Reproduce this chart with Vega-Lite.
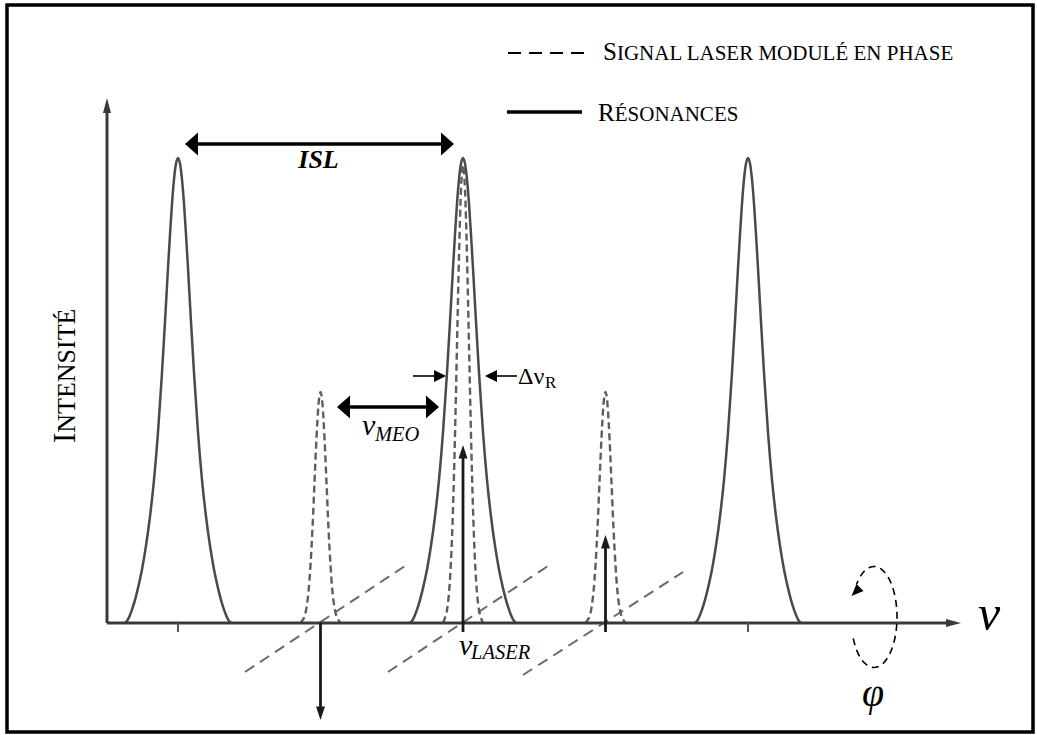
{
  "$schema": "https://vega.github.io/schema/vega-lite/v6.json",
  "width": 1026,
  "height": 727,
  "padding": {"left": 7, "top": 5, "right": 4, "bottom": 3},
  "autosize": {"type": "none"},
  "background": "white",
  "config": {"view": {"stroke": "black", "strokeWidth": 3.5}},
  "encoding": {
    "x": {"field": "x", "type": "quantitative", "scale": {"domain": [-3.2, 4.0], "nice": false, "zero": false}, "axis": null},
    "y": {"field": "y", "type": "quantitative", "scale": {"domain": [-0.23441, 1.32903], "nice": false, "zero": false}, "axis": null}
  },
  "layer": [
    {
      "data": {"values": [
        {"x": -1.5298, "y": -0.1054, "x2": -0.4070, "y2": 0.1226},
        {"x": -0.5263, "y": -0.1054, "x2": 0.5965, "y2": 0.1226},
        {"x": 0.4211, "y": -0.1118, "x2": 1.5439, "y2": 0.1097}
      ]},
      "mark": {"type": "rule", "stroke": "#6a6a6a", "strokeWidth": 2, "strokeDash": [11, 7]},
      "encoding": {"x2": {"field": "x2"}, "y2": {"field": "y2"}}
    },
    {
      "data": {"values": [
        {"peak": "p1", "x": -2.3719, "y": 0}, {"peak": "p1", "x": -2.3509, "y": 0.008}, {"peak": "p1", "x": -2.3158, "y": 0.035}, {"peak": "p1", "x": -2.2807, "y": 0.075}, {"peak": "p1", "x": -2.2526, "y": 0.115}, {"peak": "p1", "x": -2.2246, "y": 0.166}, {"peak": "p1", "x": -2.1965, "y": 0.229}, {"peak": "p1", "x": -2.1684, "y": 0.308}, {"peak": "p1", "x": -2.1404, "y": 0.410}, {"peak": "p1", "x": -2.1123, "y": 0.538}, {"peak": "p1", "x": -2.0912, "y": 0.648}, {"peak": "p1", "x": -2.0702, "y": 0.763}, {"peak": "p1", "x": -2.0561, "y": 0.836}, {"peak": "p1", "x": -2.0421, "y": 0.902}, {"peak": "p1", "x": -2.0281, "y": 0.954}, {"peak": "p1", "x": -2.0140, "y": 0.988}, {"peak": "p1", "x": -2.0, "y": 1.0}, {"peak": "p1", "x": -1.9860, "y": 0.988}, {"peak": "p1", "x": -1.9719, "y": 0.954}, {"peak": "p1", "x": -1.9579, "y": 0.902}, {"peak": "p1", "x": -1.9439, "y": 0.836}, {"peak": "p1", "x": -1.9298, "y": 0.763}, {"peak": "p1", "x": -1.9088, "y": 0.648}, {"peak": "p1", "x": -1.8877, "y": 0.538}, {"peak": "p1", "x": -1.8596, "y": 0.410}, {"peak": "p1", "x": -1.8316, "y": 0.308}, {"peak": "p1", "x": -1.8035, "y": 0.229}, {"peak": "p1", "x": -1.7754, "y": 0.166}, {"peak": "p1", "x": -1.7474, "y": 0.115}, {"peak": "p1", "x": -1.7193, "y": 0.075}, {"peak": "p1", "x": -1.6842, "y": 0.035}, {"peak": "p1", "x": -1.6491, "y": 0.008}, {"peak": "p1", "x": -1.6281, "y": 0},
        {"peak": "p2", "x": -0.3719, "y": 0}, {"peak": "p2", "x": -0.3509, "y": 0.008}, {"peak": "p2", "x": -0.3158, "y": 0.035}, {"peak": "p2", "x": -0.2807, "y": 0.075}, {"peak": "p2", "x": -0.2526, "y": 0.115}, {"peak": "p2", "x": -0.2246, "y": 0.166}, {"peak": "p2", "x": -0.1965, "y": 0.229}, {"peak": "p2", "x": -0.1684, "y": 0.308}, {"peak": "p2", "x": -0.1404, "y": 0.410}, {"peak": "p2", "x": -0.1123, "y": 0.538}, {"peak": "p2", "x": -0.0912, "y": 0.648}, {"peak": "p2", "x": -0.0702, "y": 0.763}, {"peak": "p2", "x": -0.0561, "y": 0.836}, {"peak": "p2", "x": -0.0421, "y": 0.902}, {"peak": "p2", "x": -0.0281, "y": 0.954}, {"peak": "p2", "x": -0.0140, "y": 0.988}, {"peak": "p2", "x": 0.0, "y": 1.0}, {"peak": "p2", "x": 0.0140, "y": 0.988}, {"peak": "p2", "x": 0.0281, "y": 0.954}, {"peak": "p2", "x": 0.0421, "y": 0.902}, {"peak": "p2", "x": 0.0561, "y": 0.836}, {"peak": "p2", "x": 0.0702, "y": 0.763}, {"peak": "p2", "x": 0.0912, "y": 0.648}, {"peak": "p2", "x": 0.1123, "y": 0.538}, {"peak": "p2", "x": 0.1404, "y": 0.410}, {"peak": "p2", "x": 0.1684, "y": 0.308}, {"peak": "p2", "x": 0.1965, "y": 0.229}, {"peak": "p2", "x": 0.2246, "y": 0.166}, {"peak": "p2", "x": 0.2526, "y": 0.115}, {"peak": "p2", "x": 0.2807, "y": 0.075}, {"peak": "p2", "x": 0.3158, "y": 0.035}, {"peak": "p2", "x": 0.3509, "y": 0.008}, {"peak": "p2", "x": 0.3719, "y": 0},
        {"peak": "p3", "x": 1.6281, "y": 0}, {"peak": "p3", "x": 1.6491, "y": 0.008}, {"peak": "p3", "x": 1.6842, "y": 0.035}, {"peak": "p3", "x": 1.7193, "y": 0.075}, {"peak": "p3", "x": 1.7474, "y": 0.115}, {"peak": "p3", "x": 1.7754, "y": 0.166}, {"peak": "p3", "x": 1.8035, "y": 0.229}, {"peak": "p3", "x": 1.8316, "y": 0.308}, {"peak": "p3", "x": 1.8596, "y": 0.410}, {"peak": "p3", "x": 1.8877, "y": 0.538}, {"peak": "p3", "x": 1.9088, "y": 0.648}, {"peak": "p3", "x": 1.9298, "y": 0.763}, {"peak": "p3", "x": 1.9439, "y": 0.836}, {"peak": "p3", "x": 1.9579, "y": 0.902}, {"peak": "p3", "x": 1.9719, "y": 0.954}, {"peak": "p3", "x": 1.9860, "y": 0.988}, {"peak": "p3", "x": 2.0, "y": 1.0}, {"peak": "p3", "x": 2.0140, "y": 0.988}, {"peak": "p3", "x": 2.0281, "y": 0.954}, {"peak": "p3", "x": 2.0421, "y": 0.902}, {"peak": "p3", "x": 2.0561, "y": 0.836}, {"peak": "p3", "x": 2.0702, "y": 0.763}, {"peak": "p3", "x": 2.0912, "y": 0.648}, {"peak": "p3", "x": 2.1123, "y": 0.538}, {"peak": "p3", "x": 2.1404, "y": 0.410}, {"peak": "p3", "x": 2.1684, "y": 0.308}, {"peak": "p3", "x": 2.1965, "y": 0.229}, {"peak": "p3", "x": 2.2246, "y": 0.166}, {"peak": "p3", "x": 2.2526, "y": 0.115}, {"peak": "p3", "x": 2.2807, "y": 0.075}, {"peak": "p3", "x": 2.3158, "y": 0.035}, {"peak": "p3", "x": 2.3509, "y": 0.008}, {"peak": "p3", "x": 2.3719, "y": 0}
      ]},
      "mark": {"type": "line", "stroke": "#4a4a4a", "strokeWidth": 2.5, "interpolate": "monotone"},
      "encoding": {"detail": {"field": "peak"}}
    },
    {
      "data": {"values": [
        {"s": "c", "x": -0.1404, "y": 0}, {"s": "c", "x": -0.1263, "y": 0.011}, {"s": "c", "x": -0.1123, "y": 0.028}, {"s": "c", "x": -0.0982, "y": 0.065}, {"s": "c", "x": -0.0842, "y": 0.133}, {"s": "c", "x": -0.0702, "y": 0.245}, {"s": "c", "x": -0.0561, "y": 0.405}, {"s": "c", "x": -0.0421, "y": 0.598}, {"s": "c", "x": -0.0281, "y": 0.789}, {"s": "c", "x": -0.0140, "y": 0.932}, {"s": "c", "x": 0.0, "y": 0.985}, {"s": "c", "x": 0.0140, "y": 0.932}, {"s": "c", "x": 0.0281, "y": 0.789}, {"s": "c", "x": 0.0421, "y": 0.598}, {"s": "c", "x": 0.0561, "y": 0.405}, {"s": "c", "x": 0.0702, "y": 0.245}, {"s": "c", "x": 0.0842, "y": 0.133}, {"s": "c", "x": 0.0982, "y": 0.065}, {"s": "c", "x": 0.1123, "y": 0.028}, {"s": "c", "x": 0.1263, "y": 0.011}, {"s": "c", "x": 0.1404, "y": 0},
        {"s": "l", "x": -1.1404, "y": 0}, {"s": "l", "x": -1.1263, "y": 0.006}, {"s": "l", "x": -1.1123, "y": 0.014}, {"s": "l", "x": -1.0982, "y": 0.033}, {"s": "l", "x": -1.0842, "y": 0.067}, {"s": "l", "x": -1.0702, "y": 0.124}, {"s": "l", "x": -1.0561, "y": 0.204}, {"s": "l", "x": -1.0421, "y": 0.302}, {"s": "l", "x": -1.0281, "y": 0.398}, {"s": "l", "x": -1.0140, "y": 0.470}, {"s": "l", "x": -1.0, "y": 0.497}, {"s": "l", "x": -0.9860, "y": 0.470}, {"s": "l", "x": -0.9719, "y": 0.398}, {"s": "l", "x": -0.9579, "y": 0.302}, {"s": "l", "x": -0.9439, "y": 0.204}, {"s": "l", "x": -0.9298, "y": 0.124}, {"s": "l", "x": -0.9158, "y": 0.067}, {"s": "l", "x": -0.9018, "y": 0.033}, {"s": "l", "x": -0.8877, "y": 0.014}, {"s": "l", "x": -0.8737, "y": 0.006}, {"s": "l", "x": -0.8596, "y": 0},
        {"s": "u", "x": 0.8596, "y": 0}, {"s": "u", "x": 0.8737, "y": 0.006}, {"s": "u", "x": 0.8877, "y": 0.014}, {"s": "u", "x": 0.9018, "y": 0.033}, {"s": "u", "x": 0.9158, "y": 0.067}, {"s": "u", "x": 0.9298, "y": 0.124}, {"s": "u", "x": 0.9439, "y": 0.204}, {"s": "u", "x": 0.9579, "y": 0.302}, {"s": "u", "x": 0.9719, "y": 0.398}, {"s": "u", "x": 0.9860, "y": 0.470}, {"s": "u", "x": 1.0, "y": 0.497}, {"s": "u", "x": 1.0140, "y": 0.470}, {"s": "u", "x": 1.0281, "y": 0.398}, {"s": "u", "x": 1.0421, "y": 0.302}, {"s": "u", "x": 1.0561, "y": 0.204}, {"s": "u", "x": 1.0702, "y": 0.124}, {"s": "u", "x": 1.0842, "y": 0.067}, {"s": "u", "x": 1.0982, "y": 0.033}, {"s": "u", "x": 1.1123, "y": 0.014}, {"s": "u", "x": 1.1263, "y": 0.006}, {"s": "u", "x": 1.1404, "y": 0}
      ]},
      "mark": {"type": "line", "stroke": "#5e5e5e", "strokeWidth": 2.4, "strokeDash": [7, 4], "interpolate": "monotone"},
      "encoding": {"detail": {"field": "s"}}
    },
    {
      "data": {"values": [
        {"x": -2.4982, "y": 0, "x2": 3.4245, "y2": 0},
        {"x": -2.4982, "y": 0, "x2": -2.4982, "y2": 1.1075}
      ]},
      "mark": {"type": "rule", "stroke": "#3a3a3a", "strokeWidth": 3},
      "encoding": {"x2": {"field": "x2"}, "y2": {"field": "y2"}}
    },
    {
      "data": {"values": [
        {"x": -2, "y": 0, "x2": -2, "y2": -0.0194},
        {"x": 2, "y": 0, "x2": 2, "y2": -0.0194}
      ]},
      "mark": {"type": "rule", "stroke": "#555555", "strokeWidth": 2},
      "encoding": {"x2": {"field": "x2"}, "y2": {"field": "y2"}}
    },
    {
      "data": {"values": [
        {"x": 0, "y": -0.0194, "x2": 0, "y2": 0.3656},
        {"x": 1, "y": -0.0194, "x2": 1, "y2": 0.1720},
        {"x": -1, "y": 0, "x2": -1, "y2": -0.1914}
      ]},
      "mark": {"type": "rule", "stroke": "#1a1a1a", "strokeWidth": 2.8},
      "encoding": {"x2": {"field": "x2"}, "y2": {"field": "y2"}}
    },
    {
      "data": {"values": [
        {"x": -1.8737, "y": 1.0301, "x2": -0.1404, "y2": 1.0301},
        {"x": -0.8140, "y": 0.4645, "x2": -0.2386, "y2": 0.4645},
        {"x": 0.3088, "y": 1.0989, "x2": 0.8351, "y2": 1.0989}
      ]},
      "mark": {"type": "rule", "stroke": "black", "strokeWidth": 3.3},
      "encoding": {"x2": {"field": "x2"}, "y2": {"field": "y2"}}
    },
    {
      "data": {"values": [
        {"x": -0.3509, "y": 0.5312, "x2": -0.1614, "y2": 0.5312},
        {"x": 0.1965, "y": 0.5312, "x2": 0.3789, "y2": 0.5312}
      ]},
      "mark": {"type": "rule", "stroke": "black", "strokeWidth": 1.6},
      "encoding": {"x2": {"field": "x2"}, "y2": {"field": "y2"}}
    },
    {
      "data": {"values": [
        {"x": 0.3158, "y": 1.2258, "x2": 0.8702, "y2": 1.2258}
      ]},
      "mark": {"type": "rule", "stroke": "black", "strokeWidth": 2.2, "strokeDash": [13, 8]},
      "encoding": {"x2": {"field": "x2"}, "y2": {"field": "y2"}}
    },
    {
      "data": {"values": [
        {"k": 1, "x": 2.7380, "y": -0.0330}, {"k": 2, "x": 2.7606, "y": -0.0569}, {"k": 3, "x": 2.7916, "y": -0.0761}, {"k": 4, "x": 2.8290, "y": -0.0891}, {"k": 5, "x": 2.8702, "y": -0.0953}, {"k": 6, "x": 2.9122, "y": -0.0940}, {"k": 7, "x": 2.9524, "y": -0.0855}, {"k": 8, "x": 2.9879, "y": -0.0703}, {"k": 9, "x": 3.0164, "y": -0.0494}, {"k": 10, "x": 3.0359, "y": -0.0242}, {"k": 11, "x": 3.0450, "y": 0.0034}, {"k": 12, "x": 3.0432, "y": 0.0318}, {"k": 13, "x": 3.0305, "y": 0.0588}, {"k": 14, "x": 3.0079, "y": 0.0827}, {"k": 15, "x": 2.9768, "y": 0.1019}, {"k": 16, "x": 2.9394, "y": 0.1149}, {"k": 17, "x": 2.8982, "y": 0.1211}, {"k": 18, "x": 2.8562, "y": 0.1198}, {"k": 19, "x": 2.8160, "y": 0.1113}, {"k": 20, "x": 2.7805, "y": 0.0961}, {"k": 21, "x": 2.7606, "y": 0.0827}
      ]},
      "mark": {"type": "line", "stroke": "black", "strokeWidth": 1.6, "strokeDash": [7, 5], "interpolate": "catmull-rom"},
      "encoding": {"order": {"field": "k", "type": "quantitative"}}
    },
    {
      "data": {"values": [{"x": -1.9509, "y": 1.0301}, {"x": -0.8842, "y": 0.4645}]},
      "mark": {"type": "point", "shape": "M0,0L1.13,-1L1.13,1Z", "size": 529, "filled": true, "color": "black", "opacity": 1, "strokeWidth": 0}
    },
    {
      "data": {"values": [{"x": -0.0632, "y": 1.0301}, {"x": -0.1684, "y": 0.4645}]},
      "mark": {"type": "point", "shape": "M0,0L-1.13,-1L-1.13,1Z", "size": 529, "filled": true, "color": "black", "opacity": 1, "strokeWidth": 0}
    },
    {
      "data": {"values": [{"x": -0.1193, "y": 0.5312}]},
      "mark": {"type": "point", "shape": "M0,0L-2,-1L-2,1Z", "size": 144, "filled": true, "color": "black", "opacity": 1, "strokeWidth": 0}
    },
    {
      "data": {"values": [{"x": 0.1544, "y": 0.5312}]},
      "mark": {"type": "point", "shape": "M0,0L2,-1L2,1Z", "size": 144, "filled": true, "color": "black", "opacity": 1, "strokeWidth": 0}
    },
    {
      "data": {"values": [{"x": 0, "y": 0.3828}, {"x": 1, "y": 0.1892}]},
      "mark": {"type": "point", "shape": "M0,0L-1,3L1,3Z", "size": 81, "filled": true, "color": "#1a1a1a", "opacity": 1, "strokeWidth": 0}
    },
    {
      "data": {"values": [{"x": -1, "y": -0.2086}]},
      "mark": {"type": "point", "shape": "M0,0L-1,-3L1,-3Z", "size": 81, "filled": true, "color": "#1a1a1a", "opacity": 1, "strokeWidth": 0}
    },
    {
      "data": {"values": [{"x": 3.4947, "y": 0}]},
      "mark": {"type": "point", "shape": "M0,0L-3.75,-1L-3.75,1Z", "size": 64, "filled": true, "color": "#3a3a3a", "opacity": 1, "strokeWidth": 0}
    },
    {
      "data": {"values": [{"x": -2.4982, "y": 1.1290}]},
      "mark": {"type": "point", "shape": "M0,0L-1,3.75L1,3.75Z", "size": 64, "filled": true, "color": "#3a3a3a", "opacity": 1, "strokeWidth": 0}
    },
    {
      "data": {"values": [{"x": 2.7263, "y": 0.0581}]},
      "mark": {"type": "point", "shape": "M0,0L-1,-2.4L1,-2.4Z", "size": 100, "angle": 45, "filled": true, "color": "black", "opacity": 1, "strokeWidth": 0}
    },
    {
      "data": {"values": [{"t": "S", "x": 0.9825, "y": 1.2108}, {"t": "R", "x": 0.9474, "y": 1.0785}]},
      "mark": {"type": "text", "font": "Liberation Serif", "fontSize": 25, "align": "left", "baseline": "alphabetic", "color": "black"},
      "encoding": {"text": {"field": "t"}}
    },
    {
      "data": {"values": [{"t": "IGNAL LASER MODULÉ EN PHASE", "x": 1.0800, "y": 1.2108}, {"t": "ÉSONANCES", "x": 1.0646, "y": 1.0785}]},
      "mark": {"type": "text", "font": "Liberation Serif", "fontSize": 21, "align": "left", "baseline": "alphabetic", "color": "black"},
      "encoding": {"text": {"field": "t"}}
    },
    {
      "data": {"values": [{"t": "I", "x": -2.7193, "y": 0.3871}]},
      "mark": {"type": "text", "font": "Liberation Serif", "fontSize": 31, "angle": 270, "align": "left", "baseline": "alphabetic", "color": "black"},
      "encoding": {"text": {"field": "t"}}
    },
    {
      "data": {"values": [{"t": "NTENSITÉ", "x": -2.7193, "y": 0.4092}]},
      "mark": {"type": "text", "font": "Liberation Serif", "fontSize": 26, "angle": 270, "align": "left", "baseline": "alphabetic", "color": "black"},
      "encoding": {"text": {"field": "t"}}
    },
    {
      "data": {"values": [{"t": "ISL", "x": -1.0140, "y": 0.9785}]},
      "mark": {"type": "text", "font": "Liberation Serif", "fontSize": 26, "fontStyle": "italic", "fontWeight": "bold", "align": "center", "baseline": "alphabetic", "color": "black"},
      "encoding": {"text": {"field": "t"}}
    },
    {
      "data": {"values": [{"t": "ν", "x": -0.7088, "y": 0.4043}, {"t": "ν", "x": -0.0281, "y": -0.0688}]},
      "mark": {"type": "text", "font": "Liberation Serif", "fontSize": 30, "fontStyle": "italic", "align": "left", "baseline": "alphabetic", "color": "black"},
      "encoding": {"text": {"field": "t"}}
    },
    {
      "data": {"values": [{"t": "MEO", "x": -0.6175, "y": 0.3914}, {"t": "LASER", "x": 0.0561, "y": -0.0774}]},
      "mark": {"type": "text", "font": "Liberation Serif", "fontSize": 20.5, "fontStyle": "italic", "align": "left", "baseline": "alphabetic", "color": "black"},
      "encoding": {"text": {"field": "t"}}
    },
    {
      "data": {"values": [{"t": "Δν", "x": 0.3860, "y": 0.5140}]},
      "mark": {"type": "text", "font": "Liberation Serif", "fontSize": 24, "align": "left", "baseline": "alphabetic", "color": "black"},
      "encoding": {"text": {"field": "t"}}
    },
    {
      "data": {"values": [{"t": "R", "x": 0.5754, "y": 0.5054}]},
      "mark": {"type": "text", "font": "Liberation Serif", "fontSize": 17, "align": "left", "baseline": "alphabetic", "color": "black"},
      "encoding": {"text": {"field": "t"}}
    },
    {
      "data": {"values": [{"t": "ν", "x": 3.6140, "y": -0.0151}]},
      "mark": {"type": "text", "font": "Liberation Serif", "fontSize": 50, "fontStyle": "italic", "align": "left", "baseline": "alphabetic", "color": "black"},
      "encoding": {"text": {"field": "t"}}
    },
    {
      "data": {"values": [{"t": "φ", "x": 2.8772, "y": -0.1785}]},
      "mark": {"type": "text", "font": "Liberation Serif", "fontSize": 40, "fontStyle": "italic", "align": "center", "baseline": "alphabetic", "color": "black"},
      "encoding": {"text": {"field": "t"}}
    }
  ]
}
